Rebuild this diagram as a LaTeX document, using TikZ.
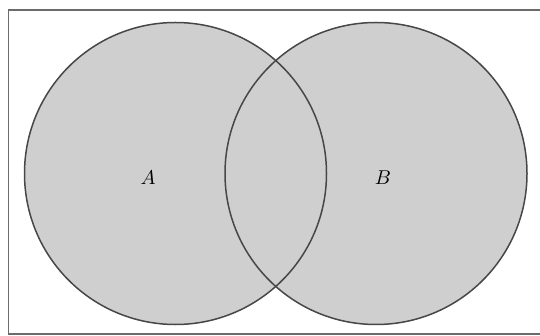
\documentclass[tikz,border=0pt]{standalone}
\usetikzlibrary{positioning}
\definecolor{setfill}{gray}{0.81}
\definecolor{setline}{gray}{0.28}
\definecolor{framecol}{gray}{0.42}

\begin{document}
\begin{tikzpicture}[x=0.5pt,y=-0.5pt,
    venn/.style={circle,draw=setline,line width=0.75pt,minimum size=150.5pt,inner sep=0pt},
    setlabel/.style={inner sep=0pt}]
    \useasboundingbox (0,0) rectangle (540,336);
    \draw[framecol,line width=0.8pt] (8.5,10) rectangle (560,334);
    % shaded sets first, outlines on top
    \fill[setfill] (175.5,173.5) circle[radius=75.5pt] (376,173.5) circle[radius=75.5pt];
    \node[venn,minimum size=151pt] (setA) at (175.5,173.5) {};
    \node[venn,minimum size=151pt] (setB) at (376,173.5) {};
    \node[setlabel] (labA) at (148,178) {$A$};
    \node[setlabel] (labB) at (383,178) {$B$};
  \end{tikzpicture}
\end{document}
